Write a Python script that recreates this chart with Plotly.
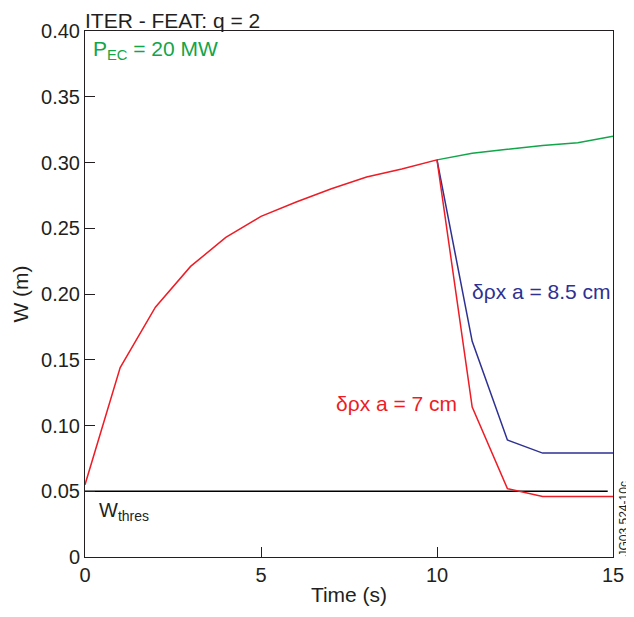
import plotly.graph_objects as go

t_common = [0, 1, 2, 3, 4, 5, 6, 7, 8, 9, 10]
w_common = [0.055, 0.144, 0.190, 0.221, 0.243, 0.259, 0.270, 0.280, 0.289, 0.295, 0.302]
t_after = [10, 11, 12, 13, 14, 15]
w_green = [0.302, 0.307, 0.310, 0.313, 0.315, 0.320]
w_blue = [0.302, 0.164, 0.089, 0.079, 0.079, 0.079]
w_red = [0.302, 0.114, 0.052, 0.046, 0.046, 0.046]
t_thres = [0, 14.85]
w_thres = [0.05, 0.05]
x_ticks = [0, 5, 10, 15]
y_ticks = [0, 0.05, 0.10, 0.15, 0.20, 0.25, 0.30, 0.35, 0.40]
y_tick_labels = ["0", "0.05", "0.10", "0.15", "0.20", "0.25", "0.30", "0.35", "0.40"]

GREEN = "#12a54a"
BLUE = "#2e3192"
RED = "#ee1c25"
INK = "#231f20"
FONT = "Liberation Sans, Arial, sans-serif"

fig = go.Figure()
fig.add_trace(go.Scatter(x=t_thres, y=w_thres, mode="lines", line=dict(color="black", width=1.5)))
fig.add_trace(go.Scatter(x=t_after, y=w_green, mode="lines", line=dict(color=GREEN, width=1.5)))
fig.add_trace(go.Scatter(x=t_after, y=w_blue, mode="lines", line=dict(color=BLUE, width=1.5)))
fig.add_trace(go.Scatter(x=t_common + t_after[1:], y=w_common + w_red[1:], mode="lines",
                         line=dict(color=RED, width=1.5)))

fig.update_layout(
    width=634, height=617,
    margin=dict(l=76, r=29, t=21, b=68),
    paper_bgcolor="white", plot_bgcolor="white",
    showlegend=False,
    font=dict(family=FONT, size=18, color=INK),
    xaxis=dict(range=[0, 15], tickvals=x_ticks, ticks="inside", ticklen=10, tickcolor=INK,
               showline=True, linecolor=INK, linewidth=1, mirror=True, showgrid=False,
               zeroline=False, title=dict(text="Time (s)", standoff=2, font=dict(size=21)),
               tickfont=dict(size=20)),
    yaxis=dict(range=[0, 0.40], tickvals=y_ticks, ticktext=y_tick_labels, ticks="inside", ticklen=10,
               tickcolor=INK, showline=True, linecolor=INK, linewidth=1, mirror=True,
               showgrid=False, zeroline=False, title=dict(text="W (m)", standoff=6, font=dict(size=21)),
               tickfont=dict(size=20)),
)

ann = [
    dict(x=0, y=1.0, xref="paper", yref="paper", text="ITER - FEAT: q = 2", showarrow=False,
         xanchor="left", yanchor="bottom", xshift=-2, yshift=-3, font=dict(size=21, color=INK)),
    dict(x=0.012, y=0.397, xref="paper", yref="y", text="P<sub>EC</sub> = 20 MW", showarrow=False,
         xanchor="left", yanchor="top", font=dict(size=21, color=GREEN)),
    dict(x=10.95, y=0.202, xref="x", yref="y", text="δρx a = 8.5 cm", showarrow=False,
         xanchor="left", yanchor="middle", font=dict(size=21, color=BLUE)),
    dict(x=10.62, y=0.117, xref="x", yref="y", text="δρx a = 7 cm", showarrow=False,
         xanchor="right", yanchor="middle", font=dict(size=21, color=RED)),
    dict(x=0.35, y=0.046, xref="x", yref="y", text="W<sub>thres</sub>", showarrow=False,
         xanchor="left", yanchor="top", font=dict(size=20, color=INK)),
    dict(x=1.0, y=0.0, xref="paper", yref="paper", text="JG03.524-10c", showarrow=False,
         textangle=-90, xanchor="left", yanchor="bottom", xshift=1, yshift=-2,
         font=dict(size=12, color=INK)),
]
fig.update_layout(annotations=ann)

fig.write_html("out.html")
